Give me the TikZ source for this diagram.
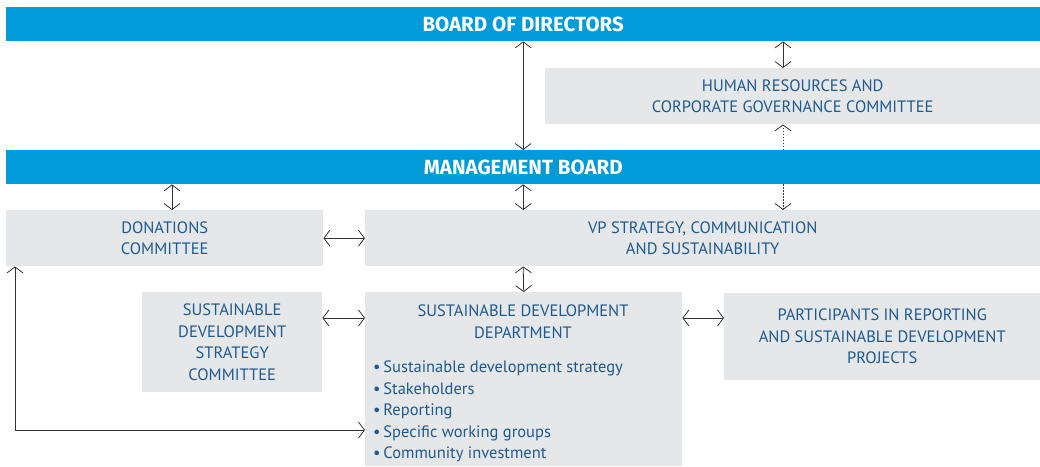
\documentclass[tikz,border=0pt]{standalone}
\usepackage{fontspec}
\setmainfont{PT Sans}
\newfontfamily\titlefont{Fira Sans}
\usetikzlibrary{arrows.meta}
\definecolor{barblue}{HTML}{009BD8}
\definecolor{boxgray}{HTML}{E6E7E9}
\definecolor{txtblue}{HTML}{1D5A92}
\definecolor{linegray}{HTML}{333333}
\tikzset{
  bar/.style={fill=barblue, text=white, font=\fontsize{20.5}{24}\selectfont\titlefont\bfseries, anchor=north west, inner sep=0pt, minimum height=34pt},
  gbox/.style={fill=boxgray, text=txtblue, font=\fontsize{16.5}{21.5}\selectfont, anchor=north west, inner sep=0pt, align=center},
  txt/.style={text=txtblue, font=\fontsize{16.5}{21.5}\selectfont, inner sep=0pt},
  conn/.style={draw=linegray, line width=0.8pt, {Straight Barb[length=6pt,width=16pt]}-{Straight Barb[length=6pt,width=16pt]}},
  dconn/.style={draw=linegray, line width=0.8pt, dash pattern=on 1.5pt off 1.5pt, -{Straight Barb[length=6pt,width=16pt]}}
}
\begin{document}
\begin{tikzpicture}[x=1pt,y=-1pt]
\useasboundingbox (0,0) rectangle (1040,466);
% bars
\node[bar, minimum width=1034pt] (bod) at (6,7) {BOARD OF DIRECTORS};
\node[bar, minimum width=1034pt] (mb) at (6,150) {MANAGEMENT BOARD};
% boxes
\node[gbox, minimum width=495pt, minimum height=56pt] (hr) at (545,68) {HUMAN RESOURCES AND\\CORPORATE GOVERNANCE COMMITTEE};
\node[gbox, minimum width=317pt, minimum height=56pt] (don) at (6,210) {DONATIONS\\COMMITTEE};
\node[gbox, minimum width=675pt, minimum height=56pt] (vp) at (365,210) {VP STRATEGY, COMMUNICATION\\AND SUSTAINABILITY};
\node[gbox, minimum width=180pt, minimum height=100pt] (sds) at (142,292) {SUSTAINABLE\\DEVELOPMENT\\STRATEGY\\COMMITTEE};
\node[gbox, minimum width=317pt, minimum height=174pt] (sdd) at (365,292) {};
\node[gbox, minimum width=316pt, minimum height=87pt] (par) at (724,293) {PARTICIPANTS IN REPORTING\\AND SUSTAINABLE DEVELOPMENT\\PROJECTS};
\node[txt, align=center, anchor=north] (sddh) at (523,305) {SUSTAINABLE DEVELOPMENT\\DEPARTMENT};
\node[txt, align=left, anchor=north west] (sddl) at (373,361) {\textbullet\,Sustainable development strategy\\\textbullet\,Stakeholders\\\textbullet\,Reporting\\\textbullet\,Specific working groups\\\textbullet\,Community investment};
% helper positions
\coordinate (xhr) at (783,0);
\coordinate (xdon) at (172,0);
\coordinate (xl) at (15,0);
\coordinate (yl) at (0,430);
\coordinate (yr) at (0,318);
% connectors
\draw[conn] (bod.south) -- (mb.north);
\draw[conn] (bod.south -| xhr) -- (hr.north -| xhr);
\draw[dconn] (mb.north -| xhr) -- (hr.south -| xhr);
\draw[conn] (mb.south -| xdon) -- (don.north -| xdon);
\draw[conn] (mb.south) -- (mb.south |- vp.north);
\draw[dconn] (mb.south -| xhr) -- (vp.north -| xhr);
\draw[conn] (don.east) -- (don.east -| vp.west);
\draw[conn] (mb.south |- vp.south) -- (sdd.north);
\draw[conn] (sds.east |- yr) -- (sdd.west |- yr);
\draw[conn] (sdd.east |- yr) -- (par.west |- yr);
\draw[conn] (don.south -| xl) -- (xl |- yl) -- (sdd.west |- yl);
\end{tikzpicture}
\end{document}
